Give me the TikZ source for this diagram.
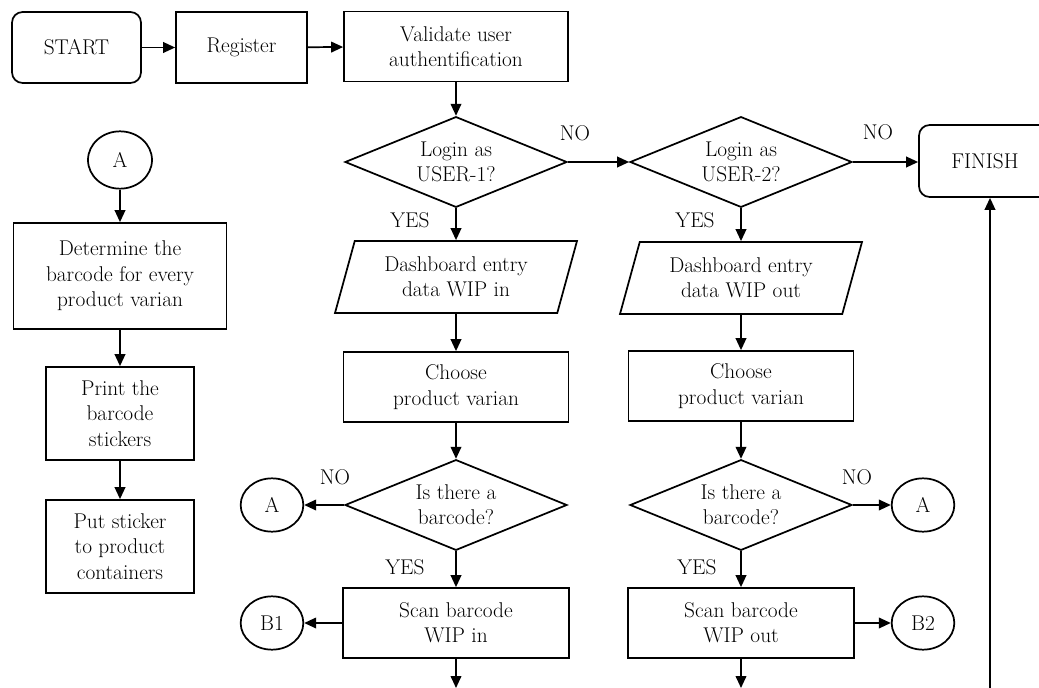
\documentclass[tikz,border=0pt]{standalone}
\usetikzlibrary{shapes.geometric,arrows.meta}
\begin{document}
\begin{tikzpicture}[x=0.75pt,y=0.75pt,yscale=-1,xscale=1,
    font=\fontsize{16}{19}\selectfont,
    box/.style={draw,rectangle,line width=1.3pt,align=center,inner sep=2pt},
    term/.style={box,rounded corners=8pt},
    decis/.style={draw,diamond,aspect=2.4,line width=1.3pt,align=center,inner sep=0pt,minimum width=166.5pt,minimum height=68pt},
    iobox/.style={draw,trapezium,trapezium left angle=64,trapezium right angle=116,trapezium stretches body,line width=1.3pt,align=center,inner sep=0pt,minimum width=181.5pt,minimum height=54pt},
    conn/.style={draw,ellipse,line width=1.3pt,inner sep=0pt,minimum width=47pt,minimum height=40pt},
    lbl/.style={inner sep=0pt},
    arr/.style={line width=1.3pt,-{Triangle[length=9pt,width=8pt]}}]
    \useasboundingbox (0,0) rectangle (1039,688);

    %Top row
    \node[term,minimum width=96.75pt,minimum height=53.25pt] (start) at (76.5,47.5) {START};
    \node[box,minimum width=98.25pt,minimum height=53.25pt] (reg) at (241.5,47.5) {Register};
    \node[box,minimum width=168pt,minimum height=52.5pt] (valid) at (456,46.5) {Validate user\\authentification};

    %Login decisions
    \node[decis] (user1) at (456,162) {Login as\\USER-1?};
    \node[decis] (user2) at (741,162) {Login as\\USER-2?};
    \node[term,minimum width=99pt,minimum height=54pt] (finish) at (985,161) {FINISH};

    %USER-1 column
    \node[iobox] (dashin) at (456,277) {Dashboard entry\\data WIP in};
    \node[box,minimum width=168.75pt,minimum height=52.5pt] (varin) at (456,387) {Choose\\product varian};
    \node[decis] (codein) at (456,505) {Is there a\\barcode?};
    \node[box,minimum width=169.5pt,minimum height=52.5pt] (scanin) at (456,623) {Scan barcode\\WIP in};
    \node[conn] (ain) at (272,505) {A};
    \node[conn] (bin) at (272,623) {B1};

    %USER-2 column
    \node[iobox] (dashout) at (741,278) {Dashboard entry\\data WIP out};
    \node[box,minimum width=168.75pt,minimum height=52.5pt] (varout) at (741,386) {Choose\\product varian};
    \node[decis] (codeout) at (741,505) {Is there a\\barcode?};
    \node[box,minimum width=169.5pt,minimum height=52.5pt] (scanout) at (741,623) {Scan barcode\\WIP out};
    \node[conn] (aout) at (923,505) {A};
    \node[conn] (bout) at (923,623) {B2};

    %Connector A
    \node[conn,minimum width=48pt,minimum height=43pt] (atop) at (120,160) {A};
    \node[box,minimum width=159.75pt,minimum height=79.5pt] (detcode) at (120,276) {Determine the\\barcode for every\\product varian};
    \node[box,minimum width=111pt,minimum height=69.75pt] (print) at (120,413.5) {Print the\\barcode\\stickers};
    \node[box,minimum width=111pt,minimum height=69.75pt] (sticker) at (120,546.5) {Put sticker\\to product\\containers};

    %Labels
    \node[lbl] (no1) at (575,133) {NO};
    \node[lbl] (no2) at (878,132) {NO};
    \node[lbl] (no3) at (335,477) {NO};
    \node[lbl] (no4) at (857,477) {NO};
    \node[lbl] (yes1) at (410,220) {YES};
    \node[lbl] (yes2) at (695,220) {YES};
    \node[lbl] (yes3) at (405,567) {YES};
    \node[lbl] (yes4) at (697,567) {YES};

    \coordinate (exitin) at (456,688);
    \coordinate (exitout) at (741,688);
    \coordinate (loopin) at (990,688);

    %Arrows
    \draw[arr] (start) -- (reg);
    \draw[arr] (reg) -- (valid);
    \draw[arr] (valid) -- (user1);
    \draw[arr] (user1.east) -- (user2.west);
    \draw[arr] (user2.east) -- (user2.east -| finish.west);
    \draw[arr] (user1) -- (dashin);
    \draw[arr] (dashin) -- (varin);
    \draw[arr] (varin) -- (codein);
    \draw[arr] (codein.west) -- (ain.east);
    \draw[arr] (codein) -- (scanin);
    \draw[arr] (scanin.west) -- (bin.east);
    \draw[arr] (scanin.south) -- (exitin);
    \draw[arr] (user2) -- (dashout);
    \draw[arr] (dashout) -- (varout);
    \draw[arr] (varout) -- (codeout);
    \draw[arr] (codeout.east) -- (aout.west);
    \draw[arr] (codeout) -- (scanout);
    \draw[arr] (scanout.east) -- (bout.west);
    \draw[arr] (scanout.south) -- (exitout);
    \draw[arr] (loopin) -- (loopin |- finish.south);
    \draw[arr] (atop) -- (detcode);
    \draw[arr] (detcode) -- (print);
    \draw[arr] (print) -- (sticker);
\end{tikzpicture}
\end{document}
